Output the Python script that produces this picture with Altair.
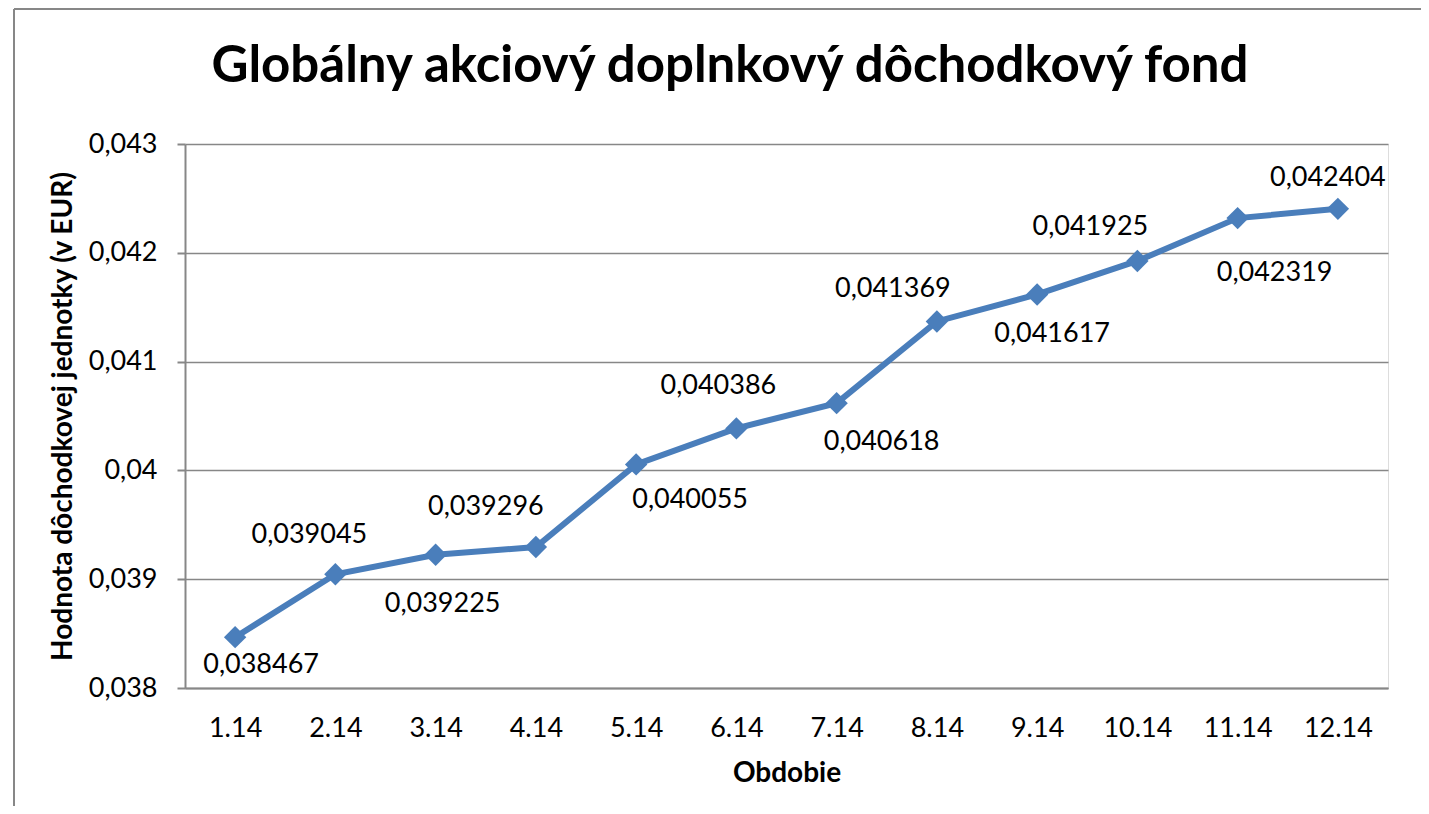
import altair as alt
import pandas as pd

# Data
periods = ["1.14", "2.14", "3.14", "4.14", "5.14", "6.14",
           "7.14", "8.14", "9.14", "10.14", "11.14", "12.14"]
values = [0.038467, 0.039045, 0.039225, 0.039296, 0.040055, 0.040386,
          0.040618, 0.041369, 0.041617, 0.041925, 0.042319, 0.042404]
y_ticks = [0.038, 0.039, 0.040, 0.041, 0.042, 0.043]
title_text = "Globálny akciový doplnkový dôchodkový fond"

# Label placement (pixel nudges of each data label relative to its point)
label_dx = [26, -26, 7, -50, 54, -18, 45, -44, 15, -47, 37, -10]
label_dy = [28, -39, 49, -40, 36, -42, 39, -32, 40, -34, 55, -31]

df = pd.DataFrame({"period": periods, "value": values})

FONT = "Lato"
BLUE = "#4A7EBB"
GREY = "#878787"

W, H = 1203, 544

x_enc = alt.X("period:N", sort=periods, scale=alt.Scale(padding=0.5),
              axis=alt.Axis(title="Obdobie", labelAngle=0, ticks=False,
                            labelPadding=27, labelFontSize=27, labelFont=FONT,
                            labelColor="#000000", domainColor=GREY, domainWidth=2,
                            titleFont=FONT, titleFontSize=28, titleFontWeight="bold",
                            titleColor="#000000", titleY=85, titleBaseline="middle",
                            grid=False))
y_enc = alt.Y("value:Q", scale=alt.Scale(domain=[0.038, 0.043], nice=False, zero=False),
              axis=alt.Axis(title="Hodnota dôchodkovej jednotky (v EUR)",
                            values=y_ticks,
                            labelExpr="replace(format(datum.value, '~g'), '.', ',')",
                            labelFontSize=27, labelFont=FONT, labelColor="#000000",
                            labelPadding=20, tickSize=8, tickColor=GREY, tickWidth=2,
                            domainColor=GREY, domainWidth=2,
                            grid=True, gridColor=GREY, gridWidth=1.5,
                            titleFont=FONT, titleFontSize=28, titleFontWeight="bold",
                            titleColor="#000000", titleX=-122, titleY=H / 2,
                            titleAngle=270, titleAlign="center", titleBaseline="middle"))

base = alt.Chart(df)

line = base.mark_line(color=BLUE, strokeWidth=6).encode(x=x_enc, y=y_enc)
points = base.mark_point(shape="diamond", filled=True, size=500, color=BLUE,
                         opacity=1).encode(x=x_enc, y=y_enc)

label_layers = []
for p, dx, dy in zip(periods, label_dx, label_dy):
    label_layers.append(
        base.transform_filter(alt.datum.period == p).transform_calculate(
            label="replace(format(datum.value, '.6f'), '.', ',')"
        ).mark_text(font=FONT, fontSize=27, color="#000000", align="center",
                    baseline="middle", dx=dx, dy=dy).encode(
            x=x_enc, y=y_enc, text="label:N")
    )

# Chart title (drawn as a text mark above the plot area)
title_mark = alt.Chart(pd.DataFrame({"t": [title_text]})).mark_text(
    font=FONT, fontSize=51, fontWeight="bold", color="#000000",
    align="center", baseline="alphabetic").encode(
    x=alt.value(545), y=alt.value(-62), text="t:N")

# Outer chart frame (left and top edges)
frame_left = base.mark_rule(color=GREY, strokeWidth=2).encode(
    x=alt.value(-171), y=alt.value(-135), y2=alt.value(H + 130))
frame_top = base.mark_rule(color=GREY, strokeWidth=2).encode(
    x=alt.value(-171), x2=alt.value(W + 33), y=alt.value(-135))

chart = alt.layer(frame_left, frame_top, line, points, *label_layers,
                  title_mark).properties(
    width=W, height=H,
    autosize=alt.AutoSizeParams(type="none"),
    padding={"left": 177, "top": 136, "right": 33, "bottom": 118},
).configure_view(stroke=None).configure(background="#ffffff")

chart.save("out.html", embed_options={"renderer": "svg", "actions": False})
